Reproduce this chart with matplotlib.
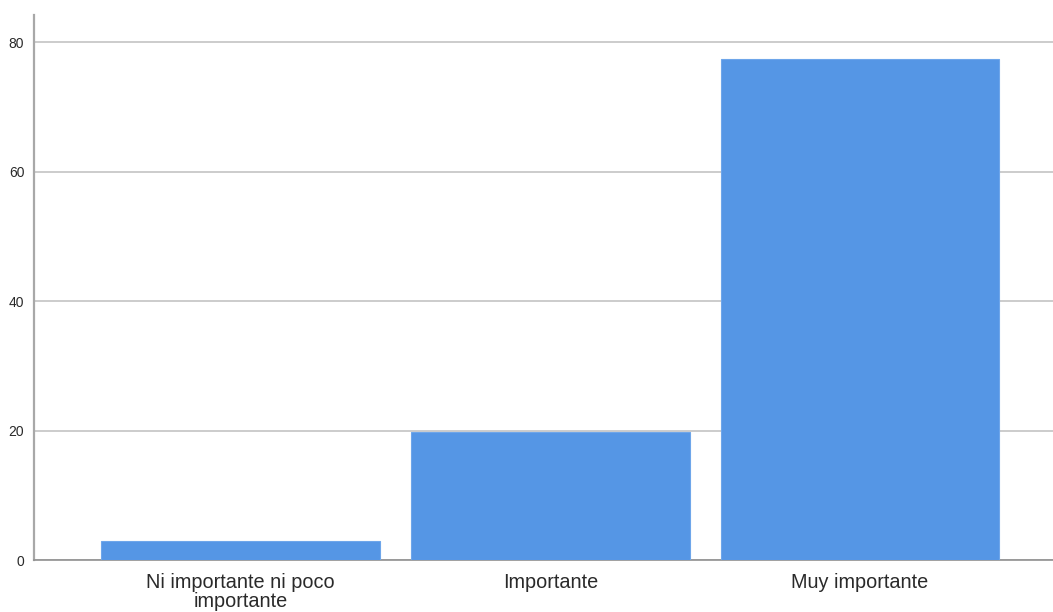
import matplotlib.pyplot as plt

categories = ['Ni importante ni poco\nimportante', 'Importante', 'Muy importante']
values = [2.9, 19.8, 77.4]
yticks = [0, 20, 40, 60, 80]

plt.rcParams['font.family'] = ['Liberation Sans', 'DejaVu Sans']

fig = plt.figure(figsize=(10.53, 6.12), dpi=100)
ax = fig.add_axes([34 / 1053, 52 / 612, 1019 / 1053, 545 / 612])

x = range(len(categories))
ax.bar(x, values, width=0.9, color='#5596e5', edgecolor='#6ea6ea', linewidth=0.8, zorder=3)

ax.set_xlim(-0.667, 2.623)
ax.set_ylim(0, 84.2)
ax.set_yticks(yticks)
ax.set_xticks(list(x))
ax.set_xticklabels(categories, fontsize=14.3, color='#2a2a2a', linespacing=1.05)
ax.tick_params(axis='y', length=0, pad=7, labelsize=10, labelcolor='#2a2a2a')
ax.tick_params(axis='x', length=0, pad=9)

ax.yaxis.grid(True, color='#c8c8c8', linewidth=1.3, zorder=0)
for s in ['top', 'right']:
    ax.spines[s].set_visible(False)
ax.spines['left'].set_color('#a8a8a8')
ax.spines['left'].set_linewidth(1.6)
ax.spines['bottom'].set_color('#909090')
ax.spines['bottom'].set_linewidth(1.2)

fig.savefig('out.png', dpi=100)
